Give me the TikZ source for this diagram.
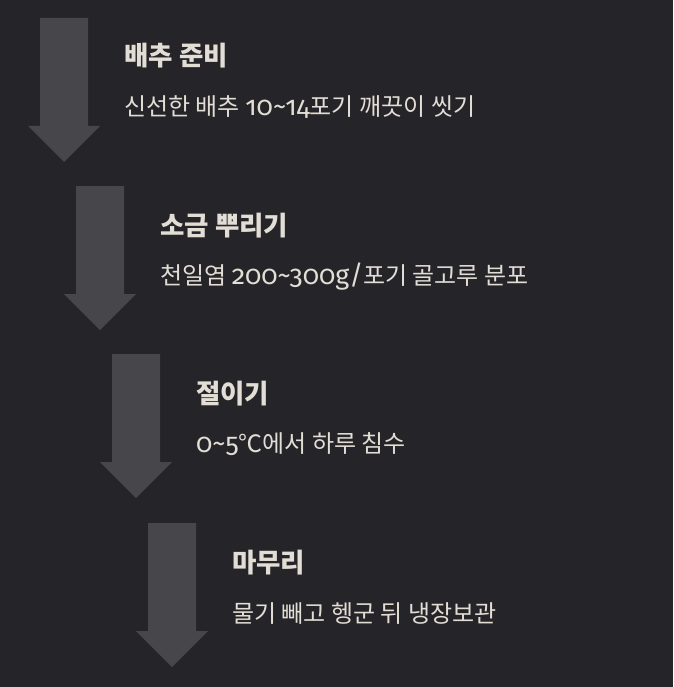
\documentclass[tikz,border=0pt]{standalone}
\usepackage{fontspec}
\setmainfont{Noto Sans CJK KR}
\newfontfamily\numfont[Numbers=OldStyle,Scale=1.12]{Fira Sans}
\definecolor{bgdark}{HTML}{252428}
\definecolor{arrowgray}{HTML}{47464B}
\definecolor{textlight}{HTML}{E2DED6}

\begin{document}
\begin{tikzpicture}[
    x=1pt, y=-1pt,
    step title/.style={anchor=west, inner sep=0pt, text=textlight, font=\bfseries\fontsize{26.5}{30}\selectfont},
    step text/.style={anchor=west, inner sep=0pt, text=textlight, font=\fontsize{24}{28}\selectfont},
    down arrow/.style={fill=arrowgray}
]
    \fill[bgdark] (0,0) rectangle (673,687);
    \useasboundingbox (0,0) rectangle (673,687);

    % arrows
    \fill[down arrow] (40,18) -- (88,18) -- (88,126) -- (100,126) -- (64,162) -- (28,126) -- (40,126) -- cycle;
    \fill[down arrow] (76,186) -- (124,186) -- (124,294) -- (136,294) -- (100,330) -- (64,294) -- (76,294) -- cycle;
    \fill[down arrow] (112,354) -- (160,354) -- (160,462) -- (172,462) -- (136,498) -- (100,462) -- (112,462) -- cycle;
    \fill[down arrow] (148,523) -- (196,523) -- (196,631) -- (208,631) -- (172,667) -- (136,631) -- (148,631) -- cycle;

    % steps
    \node[step title] (t1) at (124,56) {배추 준비};
    \node[step text] (d1) at (124,107) {신선한 배추 {\numfont 10\textasciitilde14}포기 깨끗이 씻기};
    \node[step title] (t2) at (160,226) {소금 뿌리기};
    \node[step text] (d2) at (160,277) {천일염 {\numfont 200\textasciitilde300g/}포기 골고루 분포};
    \node[step title] (t3) at (196,394) {절이기};
    \node[step text] (d3) at (196,444) {{\numfont 0\textasciitilde5}℃에서 하루 침수};
    \node[step title] (t4) at (232,563) {마무리};
    \node[step text] (d4) at (232,614) {물기 빼고 헹군 뒤 냉장보관};
\end{tikzpicture}
\end{document}
